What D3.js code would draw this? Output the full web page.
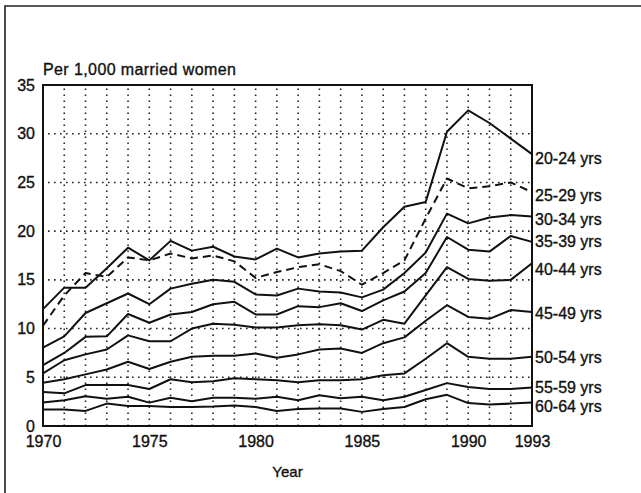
<!DOCTYPE html>
<html>
<head>
<meta charset="utf-8">
<script src="https://cdn.jsdelivr.net/npm/d3@7/dist/d3.min.js"></script>
<style>
  html, body { margin: 0; padding: 0; background: #fff; }
  svg { display: block; }
  text { font-family: "Liberation Sans", Arial, Helvetica, sans-serif; fill: #111;
         stroke: #111; stroke-width: 0.35px; }
</style>
</head>
<body>
<svg id="chart" width="641" height="493"></svg>
<script>
// Marital fertility rates by age group, 1970–1993 (per 1,000 married women)
const years = d3.range(1970, 1994);

const ageGroups = ["20-24 yrs", "25-29 yrs", "30-34 yrs", "35-39 yrs", "40-44 yrs",
                   "45-49 yrs", "50-54 yrs", "55-59 yrs", "60-64 yrs"];

const rate20to24 = [12.0, 14.2, 14.2, 16.2, 18.3, 17.0, 19.0, 18.0, 18.4, 17.4, 17.1, 18.2,
                    17.3, 17.7, 17.9, 18.0, 20.4, 22.5, 23.0, 30.2, 32.4, 31.1, 29.5, 27.9];
const rate25to29 = [10.3, 13.4, 15.7, 15.3, 17.3, 17.0, 17.7, 17.2, 17.5, 16.9, 15.2, 15.8,
                    16.3, 16.6, 15.9, 14.5, 15.7, 17.0, 21.3, 25.4, 24.4, 24.6, 25.0, 24.0];
const rate30to34 = [8.05, 9.2, 11.6, 12.6, 13.6, 12.5, 14.1, 14.6, 15.0, 14.8, 13.5, 13.4,
                    14.1, 13.8, 13.7, 13.2, 14.0, 15.7, 17.8, 21.8, 20.8, 21.4, 21.65, 21.5];
const rate35to39 = [6.25, 7.5, 9.15, 9.2, 11.5, 10.6, 11.45, 11.7, 12.5, 12.75, 11.45, 11.45,
                    12.3, 12.2, 12.6, 11.8, 12.9, 13.8, 15.7, 19.4, 18.1, 17.9, 19.5, 18.9];
const rate40to44 = [5.4, 6.75, 7.35, 7.85, 9.3, 8.7, 8.7, 10.0, 10.5, 10.4, 10.1, 10.1,
                    10.35, 10.45, 10.35, 9.9, 10.9, 10.5, 13.4, 16.3, 15.1, 14.9, 15.0, 16.7];
const rate45to49 = [4.45, 4.8, 5.3, 5.8, 6.6, 5.85, 6.6, 7.1, 7.2, 7.2, 7.45, 7.0,
                    7.35, 7.85, 7.95, 7.5, 8.5, 9.1, 10.8, 12.4, 11.2, 11.0, 11.9, 11.7];
const rate50to54 = [3.5, 3.35, 4.2, 4.2, 4.2, 3.8, 4.8, 4.5, 4.6, 4.9, 4.8, 4.7,
                    4.5, 4.7, 4.7, 4.8, 5.2, 5.4, 6.9, 8.5, 7.1, 6.9, 6.9, 7.1];
const rate55to59 = [2.4, 2.65, 3.05, 2.8, 3.0, 2.4, 2.9, 2.55, 2.9, 2.9, 2.8, 3.0,
                    2.65, 3.15, 2.85, 3.0, 2.65, 3.0, 3.7, 4.4, 4.0, 3.8, 3.8, 3.95];
const rate60to64 = [1.7, 1.7, 1.55, 2.3, 2.05, 2.05, 1.95, 1.95, 2.0, 2.1, 1.95, 1.55,
                    1.75, 1.8, 1.8, 1.45, 1.75, 1.95, 2.75, 3.2, 2.35, 2.2, 2.3, 2.4];

const seriesValues = [rate20to24, rate25to29, rate30to34, rate35to39, rate40to44,
                      rate45to49, rate50to54, rate55to59, rate60to64];
const dashedGroup = "25-29 yrs";

const xTickYears = [1970, 1975, 1980, 1985, 1990, 1993];
const yTickValues = [0, 5, 10, 15, 20, 25, 30, 35];

const unitLabel = "Per 1,000 married women";
const xAxisTitle = "Year";

// ---- layout ----
const svg = d3.select("#chart");
const plot = { left: 43, right: 532, top: 85, bottom: 426 };

const x = d3.scaleLinear().domain([1970, 1993]).range([plot.left, plot.right]);
const y = d3.scaleLinear().domain([0, 35]).range([plot.bottom, plot.top]);

// outer frame of the figure panel
svg.append("path")
  .attr("d", `M5,${493 + 5} L5,6 L${641 + 5},6`)
  .attr("fill", "none").attr("stroke", "#222").attr("stroke-width", 1.6);

// dotted grid: every year vertically, every 5 units horizontally
const grid = svg.append("g").attr("stroke", "#222").attr("stroke-width", 1.6)
  .attr("stroke-dasharray", "1.6,4.4").attr("fill", "none");
grid.selectAll("line.v").data(d3.range(1971, 1993)).join("line")
  .attr("x1", d => x(d)).attr("x2", d => x(d))
  .attr("y1", plot.bottom).attr("y2", plot.top + 2);
grid.selectAll("line.h").data(yTickValues.filter(v => v > 0 && v < 35)).join("line")
  .attr("x1", plot.left + 5).attr("x2", plot.right)
  .attr("y1", d => y(d)).attr("y2", d => y(d));

// axes
const yAxis = d3.axisLeft(y).tickValues(yTickValues).tickSize(0).tickPadding(8);
const xAxis = d3.axisBottom(x).tickValues(xTickYears).tickFormat(d3.format("d"))
  .tickSize(0).tickPadding(10);

const gy = svg.append("g").attr("transform", `translate(${plot.left},0)`).call(yAxis);
const gx = svg.append("g").attr("transform", `translate(0,${plot.bottom})`).call(xAxis);
[gx, gy].forEach(g => {
  g.select(".domain").remove();
  g.selectAll("text").style("font-size", "16px").attr("fill", "#111");
});

// plot frame
svg.append("rect")
  .attr("x", plot.left).attr("y", plot.top)
  .attr("width", plot.right - plot.left).attr("height", plot.bottom - plot.top)
  .attr("fill", "none").attr("stroke", "#111").attr("stroke-width", 2);

// series lines
const line = d3.line().x((d, i) => x(years[i])).y(d => y(d));
const series = ageGroups.map((name, k) => ({ name, values: seriesValues[k] }));

svg.append("g").selectAll("path").data(series).join("path")
  .attr("d", d => line(d.values))
  .attr("fill", "none").attr("stroke", "#111").attr("stroke-width", 2)
  .attr("stroke-linejoin", "round")
  .attr("stroke-dasharray", d => d.name === dashedGroup ? "8,5" : null);

// end labels; nudged apart where the line ends sit close together
const labelOffsets = { "20-24 yrs": 4, "25-29 yrs": 3, "30-34 yrs": 2.5, "35-39 yrs": 0,
                       "40-44 yrs": 6, "45-49 yrs": 1, "50-54 yrs": 0.5, "55-59 yrs": 0,
                       "60-64 yrs": 4 };
svg.append("g").selectAll("text").data(series).join("text")
  .attr("x", plot.right + 3)
  .attr("y", d => y(d.values[d.values.length - 1]) + labelOffsets[d.name])
  .attr("dy", "0.35em")
  .style("font-size", "16px")
  .text(d => d.name);

// unit and axis titles
svg.append("text").attr("x", 43).attr("y", 75).style("font-size", "16px")
  .style("letter-spacing", "0.4px").text(unitLabel);
svg.append("text").attr("x", (plot.left + plot.right) / 2).attr("y", 477)
  .attr("text-anchor", "middle").style("font-size", "15px").text(xAxisTitle);
</script>
</body>
</html>
